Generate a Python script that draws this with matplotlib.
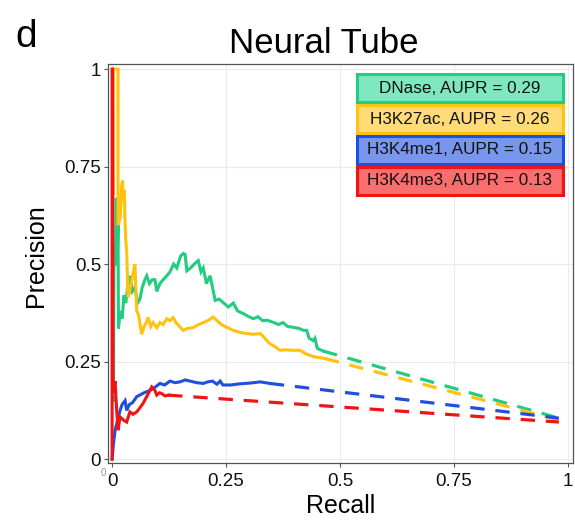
import matplotlib
matplotlib.use("Agg")
import matplotlib.pyplot as plt
from matplotlib.patches import Rectangle

plt.rcParams['font.family'] = ['Liberation Sans', 'DejaVu Sans']

# --- data ---
dnase_recall = [0.003, 0.004, 0.007, 0.009, 0.011, 0.013, 0.014, 0.018, 0.022, 0.026, 0.030, 0.034,
                0.040, 0.044, 0.050, 0.056, 0.061, 0.066, 0.072, 0.076, 0.082, 0.088, 0.094, 0.098,
                0.105, 0.112, 0.120, 0.127, 0.135, 0.142, 0.150, 0.156, 0.160, 0.164, 0.172, 0.180,
                0.189, 0.195, 0.200, 0.207, 0.215, 0.222, 0.226, 0.235, 0.245, 0.255, 0.266, 0.275,
                0.288, 0.300, 0.310, 0.320, 0.330, 0.340, 0.355, 0.365, 0.375, 0.385, 0.397, 0.410,
                0.420, 0.427, 0.432, 0.441, 0.445, 0.450, 0.463]
dnase_prec = [0.15, 0.50, 0.50, 0.67, 0.50, 0.60, 0.335, 0.38, 0.36, 0.42, 0.40, 0.44,
              0.47, 0.43, 0.44, 0.40, 0.41, 0.44, 0.46, 0.47, 0.45, 0.46, 0.46, 0.43,
              0.45, 0.46, 0.47, 0.48, 0.50, 0.49, 0.52, 0.527, 0.525, 0.483, 0.49, 0.50,
              0.509, 0.48, 0.49, 0.45, 0.47, 0.43, 0.407, 0.41, 0.40, 0.39, 0.40, 0.38,
              0.373, 0.365, 0.36, 0.365, 0.355, 0.356, 0.35, 0.345, 0.35, 0.34, 0.338, 0.335,
              0.33, 0.33, 0.31, 0.304, 0.31, 0.284, 0.277]

k27_recall = [0.003, 0.003, 0.013, 0.013, 0.018, 0.021, 0.023, 0.025, 0.027, 0.028, 0.030, 0.032,
              0.034, 0.035, 0.040, 0.045, 0.050, 0.052, 0.054, 0.058, 0.062, 0.065, 0.070, 0.075,
              0.079, 0.085, 0.090, 0.098, 0.105, 0.112, 0.120, 0.127, 0.134, 0.140, 0.148, 0.156,
              0.165, 0.178, 0.190, 0.200, 0.210, 0.222, 0.230, 0.240, 0.251, 0.266, 0.280, 0.295,
              0.310, 0.325, 0.335, 0.346, 0.355, 0.368, 0.380, 0.395, 0.412, 0.425, 0.441, 0.455,
              0.467]
k27_prec = [0.68, 1.0, 1.0, 0.60, 0.62, 0.70, 0.714, 0.66, 0.69, 0.62, 0.56, 0.535,
            0.45, 0.415, 0.44, 0.47, 0.50, 0.44, 0.38, 0.37, 0.34, 0.32, 0.34, 0.35,
            0.363, 0.34, 0.35, 0.337, 0.35, 0.345, 0.36, 0.355, 0.363, 0.35, 0.34, 0.33,
            0.335, 0.337, 0.345, 0.35, 0.355, 0.364, 0.355, 0.345, 0.338, 0.33, 0.325, 0.322,
            0.32, 0.322, 0.31, 0.296, 0.29, 0.279, 0.28, 0.279, 0.279, 0.27, 0.263, 0.26,
            0.258]

me1_recall = [0.0, 0.003, 0.0066, 0.010, 0.0175, 0.022, 0.0285, 0.032, 0.038, 0.045, 0.054, 0.062,
              0.070, 0.083, 0.095, 0.105, 0.115, 0.127, 0.138, 0.149, 0.160, 0.171, 0.185, 0.200,
              0.210, 0.220, 0.230, 0.237, 0.243, 0.260, 0.280, 0.303, 0.325, 0.346]
me1_prec = [0.0, 0.04, 0.074, 0.09, 0.125, 0.14, 0.15, 0.125, 0.14, 0.145, 0.16, 0.165,
            0.17, 0.176, 0.185, 0.194, 0.19, 0.20, 0.196, 0.198, 0.203, 0.20, 0.196, 0.194,
            0.198, 0.20, 0.192, 0.20, 0.19, 0.19, 0.193, 0.195, 0.198, 0.194]

me3_recall = [0.0, 0.0, 0.001, 0.002, 0.0066, 0.010, 0.013, 0.0175, 0.025, 0.032, 0.039, 0.046,
              0.054, 0.060, 0.068, 0.078, 0.087, 0.094, 0.098, 0.104, 0.109, 0.116, 0.123]
me3_prec = [0.0, 1.0, 1.0, 0.17, 0.20, 0.125, 0.074, 0.108, 0.10, 0.095, 0.121, 0.115,
            0.121, 0.13, 0.143, 0.165, 0.185, 0.176, 0.164, 0.17, 0.168, 0.162, 0.164]

# dashed extrapolation from last point to the end
dnase_dash = ([0.463, 0.98], [0.277, 0.105])
k27_dash = ([0.467, 0.98], [0.258, 0.100])
me1_dash = ([0.346, 0.98], [0.194, 0.105])
me3_dash = ([0.123, 0.98], [0.164, 0.095])

labels = ["DNase, AUPR = 0.29", "H3K27ac, AUPR = 0.26",
          "H3K4me1, AUPR = 0.15", "H3K4me3, AUPR = 0.13"]
colors = ["#22cc80", "#ffc20e", "#1f4fe0", "#f01414"]
fills = ["#7fe8c0", "#ffdc78", "#7896eb", "#fa6e6e"]
ticks = [0, 0.25, 0.5, 0.75, 1]
tick_labels = ["0", "0.25", "0.5", "0.75", "1"]

fig = plt.figure(figsize=(5.75, 5.2), dpi=100)
ax = fig.add_axes([108/575, 1-463/520, 465/575, 399/520])

series = [(dnase_recall, dnase_prec, dnase_dash),
          (k27_recall, k27_prec, k27_dash),
          (me1_recall, me1_prec, me1_dash),
          (me3_recall, me3_prec, me3_dash)]
for (r, p, d), c in zip(series, colors):
    ax.plot(d[0], d[1], color=c, lw=2.3, ls=(0, (4.5, 3.4)), solid_capstyle='butt')
for (r, p, d), c in zip(series, colors):
    ax.plot(r, p, color=c, lw=2.2, solid_joinstyle='miter')

ax.set_xlim(-0.009, 1.011)
ax.set_ylim(-0.010, 1.013)
ax.set_xticks(ticks)
ax.set_xticklabels(tick_labels)
ax.set_yticks(ticks)
ax.set_yticklabels(tick_labels)
ax.tick_params(labelsize=13.5, length=3, width=0.8, color='#555555', labelcolor='#111111')
ax.tick_params(axis='x', pad=4)
ax.tick_params(axis='y', pad=2)
ax.grid(True, color='#ebebeb', lw=0.8)
ax.set_axisbelow(True)
for s in ax.spines.values():
    s.set_color('#555555')
    s.set_linewidth(0.9)

ax.set_xlabel("Recall", fontsize=18)
ax.xaxis.set_label_coords(0.5, -0.078)
ax.set_ylabel("Precision", fontsize=18)
ax.yaxis.set_label_coords(-0.128, 0.52)

# legend boxes
x0, w, h, step = 0.535, 0.443, 0.071, 0.0774
top = 0.975
for i, (lab, c, f) in enumerate(zip(labels, colors, fills)):
    y = top - i * step - h
    ax.add_patch(Rectangle((x0, y), w, h, transform=ax.transAxes, facecolor=f,
                           edgecolor=c, lw=2.2, zorder=5))
    ax.text(x0 + w / 2, y + h / 2, lab, transform=ax.transAxes, ha='center',
            va='center', fontsize=12.3, color='#111111', zorder=6)

fig.text(324/575, 1-53/520, "Neural Tube", fontsize=25, ha='center', va='baseline')
fig.text(15/575, 1-47/520, "d", fontsize=28, ha='left', va='baseline')
fig.text(101/575, 1-476/520, "0", fontsize=7, color='#999999', ha='left', va='baseline')

fig.savefig("out.png", dpi=100)
